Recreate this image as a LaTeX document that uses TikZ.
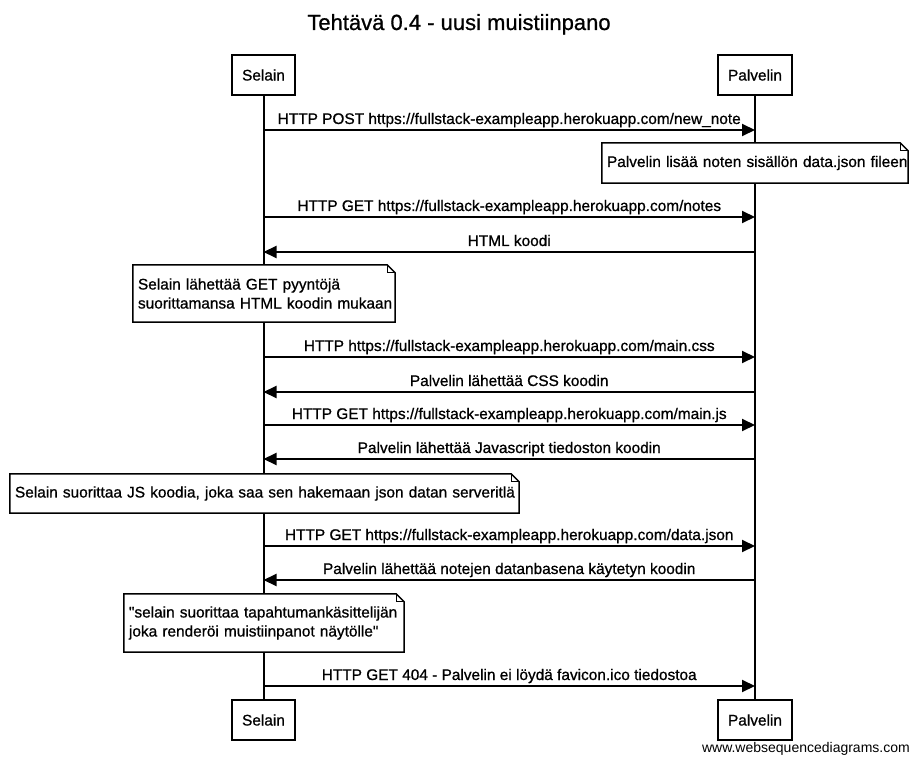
\documentclass[tikz,border=0pt]{standalone}
\usepackage{fontspec}
\setmainfont{Liberation Sans}
\newfontfamily\wsd{Liberation Sans}[FakeBold=0.8]
\usetikzlibrary{arrows.meta}
\begin{document}
\begin{tikzpicture}[x=1pt,y=-1pt,
  font=\wsd\fontsize{15.4}{19}\selectfont,
  actor/.style={draw, line width=2pt, minimum height=40pt, inner sep=0pt, anchor=center},
  life/.style={line width=2pt},
  msg/.style={line width=2pt, -{Triangle[length=13pt,width=12pt]}},
  lbl/.style={anchor=base, yshift=6pt, inner sep=0pt},
  notebox/.style={fill=white, inner xsep=5pt, inner ysep=0pt, align=left, anchor=center},
  noteline/.style={line width=1.5pt, line join=miter},
  fold/.style={line width=1pt}
]
\fill[white] (0,0) rectangle (919,762);
\useasboundingbox (0,0) rectangle (919,762);

% title
\node[anchor=base, inner sep=0pt, font=\wsd\fontsize{22}{24}\selectfont] (title) at (459,30) {Tehtävä 0.4 - uusi muistiinpano};

% actors
\node[actor, minimum width=63pt] (selT) at (263.5,75) {Selain};
\node[actor, minimum width=74pt] (palT) at (755,75) {Palvelin};
\node[actor, minimum width=63pt] (selB) at (263.5,720) {Selain};
\node[actor, minimum width=74pt] (palB) at (755,720) {Palvelin};

% lifelines
\draw[life] (selT) -- (selB);
\draw[life] (palT) -- (palB);

% message anchor points
\foreach \n/\y in {1/130,2/217,3/252,4/357,5/392,6/425,7/459,8/546,9/580,10/686}{
  \coordinate (s\n) at (263.5,\y);
  \coordinate (p\n) at (755,\y);
}

\draw[msg] (s1) -- (p1) node[lbl, midway] {HTTP POST https://fullstack-exampleapp.herokuapp.com/new\_note};

% note 1
\node[notebox, minimum height=40pt, text width=296pt] (n1) at (755,163) {\mbox{Palvelin lisää noten sisällön data.json fileen}};
\draw[noteline] (n1.north west) -- ([xshift=-8pt]n1.north east) -- ([yshift=-8pt]n1.north east) -- (n1.south east) -- (n1.south west) -- cycle;
\draw[fold] ([xshift=-8pt]n1.north east) -- ([xshift=-8pt,yshift=-8pt]n1.north east) -- ([yshift=-8pt]n1.north east);

\draw[msg] (s2) -- (p2) node[lbl, midway] {HTTP GET https://fullstack-exampleapp.herokuapp.com/notes};
\draw[msg] (p3) -- (s3) node[lbl, midway] {HTML koodi};

% note 2
\node[notebox, minimum height=57pt, text width=252pt] (n2) at (264,293.5) {\mbox{Selain lähettää GET pyyntöjä}\\\mbox{suorittamansa HTML koodin mukaan}};
\draw[noteline] (n2.north west) -- ([xshift=-8pt]n2.north east) -- ([yshift=-8pt]n2.north east) -- (n2.south east) -- (n2.south west) -- cycle;
\draw[fold] ([xshift=-8pt]n2.north east) -- ([xshift=-8pt,yshift=-8pt]n2.north east) -- ([yshift=-8pt]n2.north east);

\draw[msg] (s4) -- (p4) node[lbl, midway] {HTTP https://fullstack-exampleapp.herokuapp.com/main.css};
\draw[msg] (p5) -- (s5) node[lbl, midway] {Palvelin lähettää CSS koodin};
\draw[msg] (s6) -- (p6) node[lbl, midway] {HTTP GET https://fullstack-exampleapp.herokuapp.com/main.js};
\draw[msg] (p7) -- (s7) node[lbl, midway] {Palvelin lähettää Javascript tiedoston koodin};

% note 3
\node[notebox, minimum height=39pt, text width=499pt] (n3) at (264.5,493.5) {\mbox{Selain suorittaa JS koodia, joka saa sen hakemaan json datan serveritlä}};
\draw[noteline] (n3.north west) -- ([xshift=-8pt]n3.north east) -- ([yshift=-8pt]n3.north east) -- (n3.south east) -- (n3.south west) -- cycle;
\draw[fold] ([xshift=-8pt]n3.north east) -- ([xshift=-8pt,yshift=-8pt]n3.north east) -- ([yshift=-8pt]n3.north east);

\draw[msg] (s8) -- (p8) node[lbl, midway] {HTTP GET https://fullstack-exampleapp.herokuapp.com/data.json};
\draw[msg] (p9) -- (s9) node[lbl, midway] {Palvelin lähettää notejen datanbasena käytetyn koodin};

% note 4
\node[notebox, minimum height=58pt, text width=270pt] (n4) at (264,623) {\mbox{\symbol{34}selain suorittaa tapahtumankäsittelijän}\\\mbox{joka renderöi muistiinpanot näytölle\symbol{34}}};
\draw[noteline] (n4.north west) -- ([xshift=-8pt]n4.north east) -- ([yshift=-8pt]n4.north east) -- (n4.south east) -- (n4.south west) -- cycle;
\draw[fold] ([xshift=-8pt]n4.north east) -- ([xshift=-8pt,yshift=-8pt]n4.north east) -- ([yshift=-8pt]n4.north east);

\draw[msg] (s10) -- (p10) node[lbl, midway] {HTTP GET 404 - Palvelin ei löydä favicon.ico tiedostoa};

% footer
\node[anchor=base east, inner sep=0pt, font=\fontsize{14}{15}\selectfont] (footer) at (910,752) {www.websequencediagrams.com};
\end{tikzpicture}
\end{document}
